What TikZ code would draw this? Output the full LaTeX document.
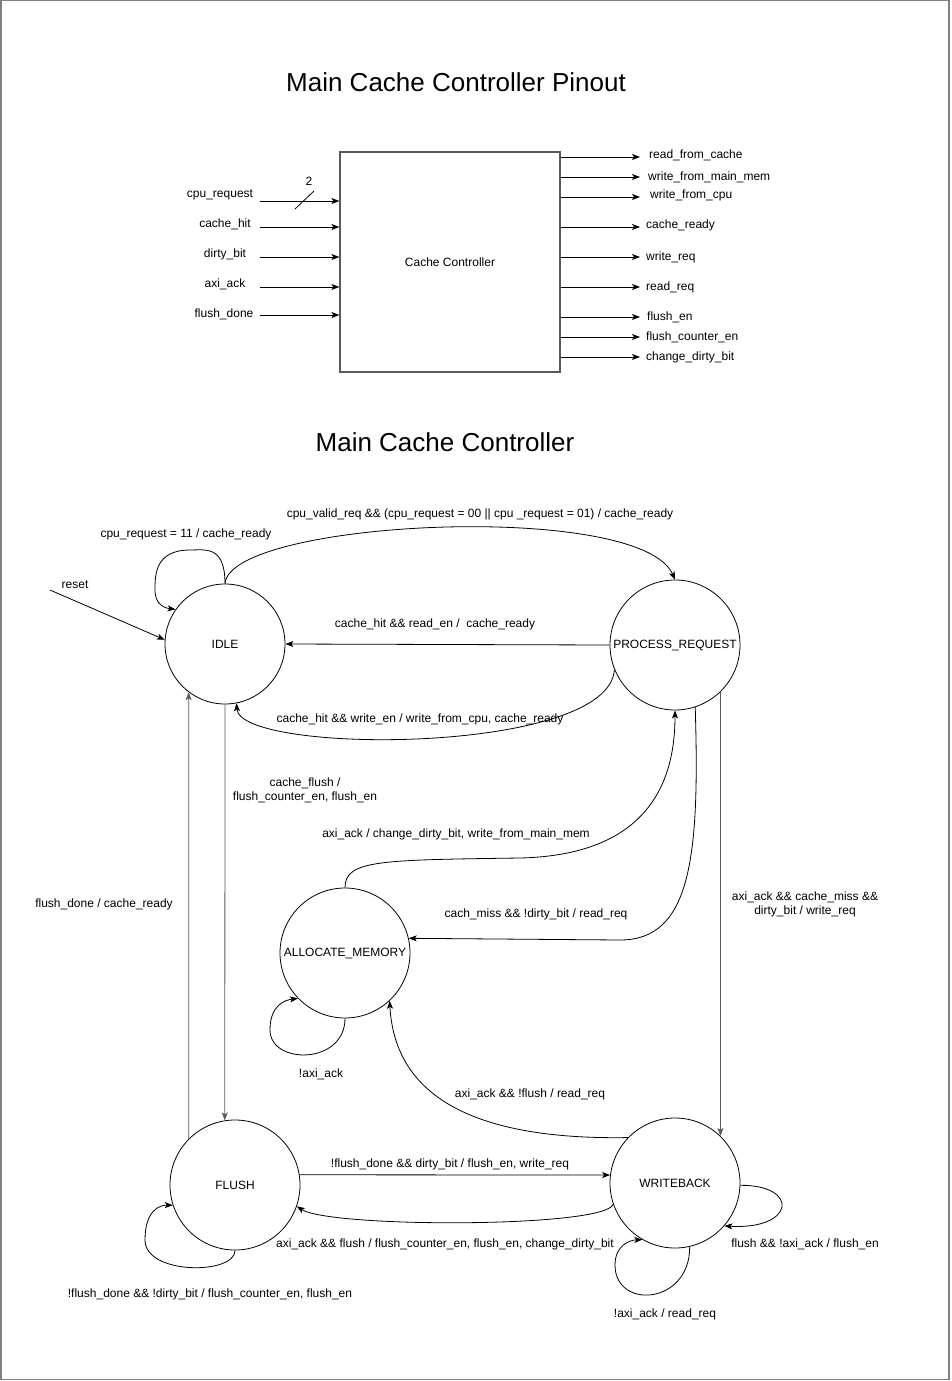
\documentclass[tikz,border=0pt]{standalone}
\usepackage{fontspec}
\setmainfont{Liberation Sans}
\usepackage{xcolor}
\usetikzlibrary{arrows.meta}

\begin{document}
\begin{tikzpicture}[x=1bp,y=-1bp,
    lbl/.style={font=\fontsize{12bp}{14bp}\selectfont, inner sep=1bp, yshift=-1.5bp},
    ttl/.style={font=\fontsize{26bp}{30bp}\selectfont},
    fsmstate/.style={draw, circle, inner sep=0pt, line width=0.8bp,
        font=\fontsize{12bp}{14bp}\selectfont},
    sig/.style={-{Stealth[length=8bp,width=6bp,inset=2bp]}, line width=0.8bp},
    trans/.style={-{Stealth[length=8bp,width=6bp,inset=2bp]}, line width=0.8bp},
    grayline/.style={draw=black!65, line width=1.4bp}]

    \useasboundingbox (0,0) rectangle (951,1381);
    % Page frame
    \draw[draw=black!50, line width=1.5bp] (0.75,0.75) rectangle (949,1379.5);

    % ---------------- Pinout ----------------
    \node[ttl] (pinouttitle) at (456,82) {Main Cache Controller Pinout};
    \node[draw=black!65, line width=1.2bp, minimum width=220bp, minimum height=220bp,
          lbl, yshift=1.5bp] (ctrl) at (450,262) {Cache Controller};

    % Inputs
    \foreach \i/\ya/\yl/\xl/\name in {1/201/193/220/cpu\_request, 2/227/223/225/cache\_hit,
            3/257/253/225/dirty\_bit, 4/287/283/225/axi\_ack, 5/315/313/224/flush\_done} {
        \coordinate (in\i) at (260,\ya);
        \node[lbl] (inlbl\i) at (\xl,\yl) {\name};
        \draw[sig] (in\i) -- (in\i -| ctrl.west);
    }
    % Bus width mark on cpu_request
    \draw[line width=0.8bp] (295,209) -- (314,191);
    \node[lbl] (buswidth) at (309,180) {2};

    % Outputs
    \foreach \i/\ya/\yl/\xl/\name in {1/157/154/648/read\_from\_cache,
            2/177/176/647/write\_from\_main\_mem, 3/197/194/649/write\_from\_cpu,
            4/227/224/645/cache\_ready, 5/257/256/645/write\_req, 6/287/286/645/read\_req,
            7/317/316/646/flush\_en, 8/337/336/645/flush\_counter\_en,
            9/357/356/645/change\_dirty\_bit} {
        \coordinate (out\i) at (640,\ya);
        \node[lbl, anchor=west] (outlbl\i) at (\xl,\yl) {\name};
        \draw[sig] (out\i -| ctrl.east) -- (out\i);
    }

    % ---------------- State machine ----------------
    \node[ttl] (fsmtitle) at (445,442) {Main Cache Controller};

    \node[fsmstate, minimum size=120bp] (idle) at (225,644) {IDLE};
    \node[fsmstate, minimum size=130bp] (proc) at (675,645) {PROCESS\_REQUEST};
    \node[fsmstate, minimum size=130bp] (alloc) at (345,953) {ALLOCATE\_MEMORY};
    \node[fsmstate, minimum size=130bp] (flush) at (235,1185) {FLUSH};
    \node[fsmstate, minimum size=130bp] (wb) at (675,1183) {WRITEBACK};

    % Reset
    \coordinate (rst) at (50,590);
    \node[lbl] (rstlbl) at (75,583) {reset};
    \draw[trans] (rst) -- (idle.176);

    % IDLE
    \draw[trans] (idle.north) .. controls (225,545) and (205,550) .. (190,550)
        .. controls (155,550) and (155,575) .. (155,590)
        .. controls (155,605) and (165,608) .. (idle.145);
    \node[lbl] (l1) at (186,533) {cpu\_request = 11 / cache\_ready};

    \draw[trans] (idle.north) .. controls (230,520) and (640,500) .. (proc.north);
    \node[lbl] (l2) at (480,513) {cpu\_valid\_req \&\& (cpu\_request = 00 || cpu \_request = 01) / cache\_ready};

    \draw[grayline, trans] (idle.south) -- (flush.99);
    \node[lbl, align=center] (l3) at (305,789) {cache\_flush /\\flush\_counter\_en, flush\_en};

    % PROCESS_REQUEST
    \draw[trans] (proc.west) -- (idle.east);
    \node[lbl] (l4) at (435,623) {cache\_hit \&\& read\_en /\ \ cache\_ready};

    \draw[trans] (proc.202) .. controls (610,755) and (240,755) .. (idle.-79);
    \node[lbl] (l5) at (420,718) {cache\_hit \&\& write\_en / write\_from\_cpu, cache\_ready};

    \draw[trans] (proc.288) .. controls (700,860) and (690,940) .. (620,940) -- (alloc.13);
    \node[lbl] (l6) at (536,913) {cach\_miss \&\& !dirty\_bit / read\_req};

    \draw[grayline, trans] (proc.314) -- (wb.46);
    \node[lbl, align=center] (l7) at (805,903) {axi\_ack \&\& cache\_miss \&\&\\dirty\_bit / write\_req};

    % ALLOCATE_MEMORY
    \draw[trans] (alloc.north) .. controls (345,860) and (380,860) .. (520,858)
        .. controls (650,855) and (675,780) .. (proc.south);
    \node[lbl] (l8) at (456,833) {axi\_ack / change\_dirty\_bit, write\_from\_main\_mem};

    \draw[trans] (alloc.south) .. controls (345,1065) and (270,1065) .. (270,1030)
        .. controls (270,1005) and (285,1000) .. (alloc.224);
    \node[lbl] (l9) at (321,1073) {!axi\_ack};

    % FLUSH
    \draw[grayline, trans] (flush.135) -- (idle.233);
    \node[lbl] (l10) at (104,903) {flush\_done / cache\_ready};

    \draw[trans] (flush.9) -- (wb.173);
    \node[lbl] (l11) at (450,1163) {!flush\_done \&\& dirty\_bit / flush\_en, write\_req};

    \draw[trans] (flush.south) .. controls (235,1275) and (145,1275) .. (145,1240)
        .. controls (145,1210) and (160,1205) .. (flush.198);
    \node[lbl] (l12) at (210,1293) {!flush\_done \&\& !dirty\_bit / flush\_counter\_en, flush\_en};

    % WRITEBACK
    \draw[trans] (wb.136) .. controls (480,1140) and (395,1100) .. (alloc.313);
    \node[lbl] (l13) at (530,1093) {axi\_ack \&\& !flush / read\_req};

    \draw[trans] (wb.199) .. controls (605,1228) and (330,1228) .. (flush.341);
    \node[lbl] (l14) at (445,1243) {axi\_ack \&\& flush / flush\_counter\_en, flush\_en, change\_dirty\_bit};

    \draw[trans] (wb.358) .. controls (800,1185) and (795,1230) .. (wb.319);
    \node[lbl] (l15) at (805,1243) {flush \&\& !axi\_ack / flush\_en};

    \draw[trans] (wb.283) .. controls (690,1305) and (615,1310) .. (615,1265)
        .. controls (615,1245) and (630,1240) .. (wb.240);
    \node[lbl] (l16) at (665,1313) {!axi\_ack / read\_req};
\end{tikzpicture}
\end{document}
